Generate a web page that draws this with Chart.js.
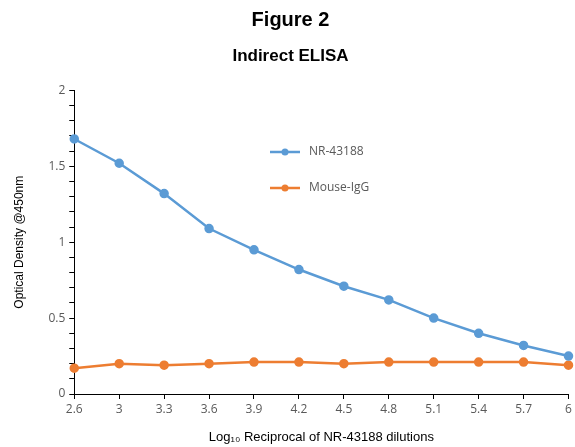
<!DOCTYPE html>
<html>
<head>
<meta charset="utf-8">
<script src="https://cdn.jsdelivr.net/npm/chart.js@4"></script>
<style>
  body { margin: 0; background: #fff; }
  #wrap { width: 575px; height: 447px; }
</style>
</head>
<body>
<div id="wrap"><canvas id="elisa_chart" width="575" height="447"></canvas></div>
<script>
// dilution labels (log10 reciprocal)
const dilutions = ["2.6", "3", "3.3", "3.6", "3.9", "4.2", "4.5", "4.8", "5.1", "5.4", "5.7", "6"];
const nr43188 = [1.68, 1.52, 1.32, 1.09, 0.95, 0.82, 0.71, 0.62, 0.50, 0.40, 0.32, 0.25];
const mouseIgG = [0.17, 0.20, 0.19, 0.20, 0.21, 0.21, 0.20, 0.21, 0.21, 0.21, 0.21, 0.19];
const seriesNames = ["NR-43188", "Mouse-IgG"];
const yMajorTicks = [0, 0.5, 1, 1.5, 2];

const tickGrey = "#595959";

// legend drawn inside the plot, like the original figure
const insideLegend = {
    id: "insideLegend",
    afterDraw(chart) {
        const c = chart.ctx;
        const x0 = 270, rows = [152, 188];
        chart.data.datasets.forEach((ds, i) => {
            const y = rows[i];
            c.save();
            c.strokeStyle = ds.borderColor;
            c.lineWidth = 2.5;
            c.beginPath();
            c.moveTo(x0, y);
            c.lineTo(x0 + 30, y);
            c.stroke();
            c.fillStyle = ds.borderColor;
            c.beginPath();
            c.arc(x0 + 15, y, 3.5, 0, Math.PI * 2);
            c.fill();
            c.fillStyle = tickGrey;
            c.font = "12px 'Open Sans', sans-serif";
            c.textBaseline = "middle";
            c.fillText(ds.label, x0 + 39, y);
            c.restore();
        });
    }
};

const config_elisa = {
    type: "line",
    data: {
        labels: dilutions,
        datasets: [
            {
                label: seriesNames[0],
                data: nr43188,
                borderColor: "#5b9bd5",
                backgroundColor: "#5b9bd5",
                borderWidth: 2.5,
                pointRadius: 3.5,
                tension: 0
            },
            {
                label: seriesNames[1],
                data: mouseIgG,
                borderColor: "#ed7d31",
                backgroundColor: "#ed7d31",
                borderWidth: 2.5,
                pointRadius: 3.5,
                tension: 0
            }
        ]
    },
    options: {
        responsive: false,
        animation: false,
        layout: { padding: { left: 12, right: 6, top: 4, bottom: 2 } },
        plugins: {
            legend: { display: false },
            tooltip: { enabled: false },
            title: {
                display: true,
                text: ["Figure 2"],
                color: "#000",
                font: { family: "'Liberation Sans', Arial, sans-serif", size: 20, weight: "bold" },
                padding: { top: 4, bottom: 2 }
            },
            subtitle: {
                display: true,
                text: "Indirect ELISA",
                color: "#000",
                font: { family: "'Liberation Sans', Arial, sans-serif", size: 17, weight: "bold" },
                padding: { top: 12, bottom: 24 }
            }
        },
        scales: {
            x: {
                type: "category",
                offset: false,
                grid: {
                    drawOnChartArea: false,
                    drawTicks: true,
                    tickLength: 5,
                    color: "#000"
                },
                border: { color: "#000", width: 1 },
                ticks: {
                    color: tickGrey,
                    font: { family: "'Open Sans', sans-serif", size: 12 },
                    maxRotation: 0,
                    autoSkip: false,
                    padding: 3
                },
                title: {
                    display: true,
                    text: "Log\u2081\u2080 Reciprocal of NR-43188 dilutions",
                    color: "#000",
                    font: { family: "'Liberation Sans', Arial, sans-serif", size: 13 },
                    padding: { top: 10, bottom: 0 }
                }
            },
            y: {
                min: 0,
                max: 2,
                grid: {
                    drawOnChartArea: false,
                    drawTicks: true,
                    tickLength: 5,
                    color: "#000"
                },
                border: { color: "#000", width: 1 },
                ticks: {
                    stepSize: 0.1,
                    autoSkip: false,
                    color: tickGrey,
                    font: { family: "'Open Sans', sans-serif", size: 12 },
                    padding: 4,
                    callback: function (v) {
                        const r = Math.round(v * 10) / 10;
                        return yMajorTicks.includes(r) ? String(r) : "";
                    }
                },
                title: {
                    display: true,
                    text: "Optical Density @450nm",
                    color: "#000",
                    font: { family: "'Liberation Sans', Arial, sans-serif", size: 12 },
                    padding: { top: 0, bottom: 18 }
                }
            }
        }
    },
    plugins: [insideLegend]
};

const ctx_elisa = document.getElementById("elisa_chart").getContext("2d");
const myChart_elisa = new Chart(ctx_elisa, config_elisa);
</script>
</body>
</html>
